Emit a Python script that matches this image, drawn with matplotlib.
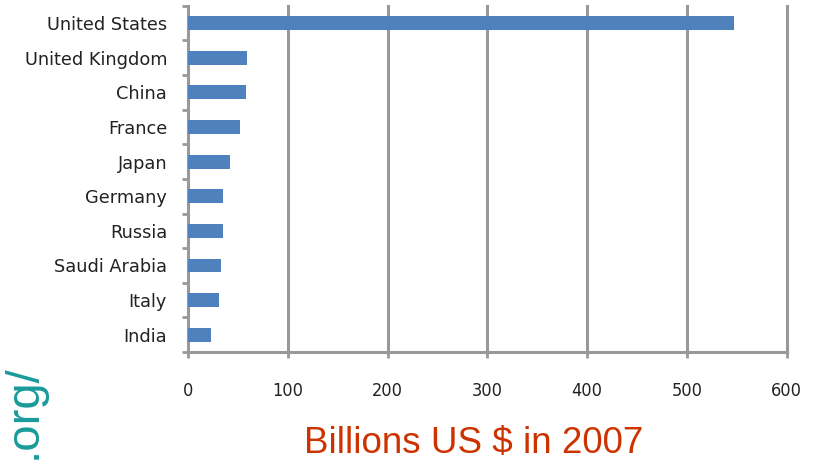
import matplotlib.pyplot as plt
import numpy as np

# data
countries = ["United States", "United Kingdom", "China", "France", "Japan",
             "Germany", "Russia", "Saudi Arabia", "Italy", "India"]
spending = [547, 59, 58, 52, 42, 35, 35, 33, 31, 23]
x_ticks = [0, 100, 200, 300, 400, 500, 600]

BAR_COLOR = "#4F81BD"
GRID_COLOR = "#999999"

fig = plt.figure(figsize=(8.17, 4.61), dpi=100)
ax = fig.add_axes([0.230, 0.2364, 0.733, 0.751])

y = np.arange(len(countries))
ax.barh(y, spending, height=0.4, color=BAR_COLOR, zorder=3)
ax.set_ylim(len(countries) - 0.5, -0.5)
ax.set_xlim(0, 600)

# y labels at centers, tick marks at category boundaries
ax.set_yticks(y)
ax.set_yticklabels(countries, fontsize=12.8, color="#222222")
ax.set_yticks(np.arange(len(countries) + 1) - 0.5, minor=True)
ax.tick_params(axis="y", which="major", length=0, pad=15)
ax.tick_params(axis="y", which="minor", length=4, width=2, color=GRID_COLOR, direction="out")

ax.set_xticks(x_ticks)
ax.set_xticklabels([str(t) for t in x_ticks], fontsize=13, fontstretch="condensed", color="#222222")
ax.tick_params(axis="x", which="major", length=9, width=2, color=GRID_COLOR,
               direction="inout", pad=17)

# vertical grid lines (drawn unclipped so the one at 600 is full width)
for t in x_ticks[1:]:
    ax.axvline(t, color=GRID_COLOR, linewidth=2.2, zorder=1, clip_on=False)
for side in ["top", "right"]:
    ax.spines[side].set_visible(False)
for side in ["left", "bottom"]:
    ax.spines[side].set_color(GRID_COLOR)
    ax.spines[side].set_linewidth(2.2)

fig.text(474 / 817, 1 - 453 / 461, "Billions US $ in 2007", fontsize=26.5,
         color="#CC3300", family="Liberation Sans", ha="center", va="baseline")

# url fragment at the bottom left, kept inside the figure
fig.text(0.002, 0.004, ".org/", rotation=90, ha="left", va="bottom",
         fontsize=34, color="#1A9A9A", family="Liberation Sans")

fig.savefig("out.png", dpi=100)
